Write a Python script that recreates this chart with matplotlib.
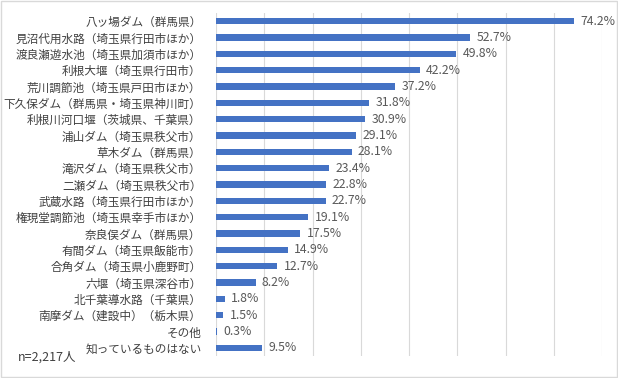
import matplotlib
matplotlib.use('Agg')
import matplotlib.pyplot as plt
import numpy as np

plt.rcParams['font.family'] = ['Noto Sans CJK JP', 'DejaVu Sans']

labels = ["八ッ場ダム（群馬県）", "見沼代用水路（埼玉県行田市ほか）", "渡良瀬遊水池（埼玉県加須市ほか）",
          "利根大堰（埼玉県行田市）", "荒川調節池（埼玉県戸田市ほか）", "下久保ダム（群馬県・埼玉県神川町）",
          "利根川河口堰（茨城県、千葉県）", "浦山ダム（埼玉県秩父市）", "草木ダム（群馬県）",
          "滝沢ダム（埼玉県秩父市）", "二瀬ダム（埼玉県秩父市）", "武蔵水路（埼玉県行田市ほか）",
          "権現堂調節池（埼玉県幸手市ほか）", "奈良俣ダム（群馬県）", "有間ダム（埼玉県飯能市）",
          "合角ダム（埼玉県小鹿野町）", "六堰（埼玉県深谷市）", "北千葉導水路（千葉県）",
          "南摩ダム（建設中）（栃木県）", "その他", "知っているものはない"]
values = [74.2, 52.7, 49.8, 42.2, 37.2, 31.8, 30.9, 29.1, 28.1, 23.4, 22.8, 22.7,
          19.1, 17.5, 14.9, 12.7, 8.2, 1.8, 1.5, 0.3, 9.5]

fig = plt.figure(figsize=(6.18, 3.78), dpi=100)
ax = fig.add_axes([216/618, 1-356/378, (602-216)/618, (356-13)/378])

y = np.arange(len(labels))
ax.barh(y, values, height=0.38, color='#4472C4')
for yi, v in zip(y, values):
    ax.text(v + 1.3, yi, f"{v}%", va='center', ha='left', fontsize=8.8, color='#595959')

ax.set_xlim(0, 80)
ax.set_ylim(len(labels) - 0.5, -0.5)
ax.set_xticks(np.arange(0, 81, 10))
ax.xaxis.grid(True, color='#d9d9d9', linewidth=0.8)
ax.set_axisbelow(True)
ax.tick_params(axis='x', bottom=False, labelbottom=False)
ax.tick_params(axis='y', left=False, labelsize=8.4, labelcolor='#404040', pad=7)
ax.set_yticks(y)
ax.set_yticklabels(labels)
for s in ax.spines.values():
    s.set_visible(False)

fig.text(18/618, 1-357/378, "n=2,217人", fontsize=9, color='#404040', va='center')

# light outer border
fig.patches.append(plt.Rectangle((0.002, 0.003), 0.996, 0.994, transform=fig.transFigure,
                                 fill=False, edgecolor='#d9d9d9', linewidth=1))

fig.savefig('out.png', dpi=100)
